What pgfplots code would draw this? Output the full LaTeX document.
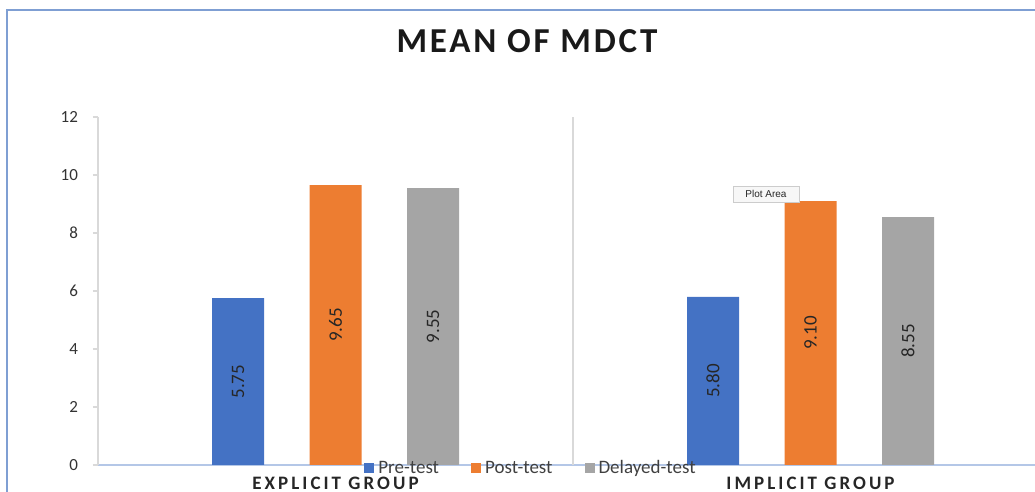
\documentclass[border=0pt]{standalone}
\usepackage{pgfplots}
\pgfplotsset{compat=1.18}
\usepackage{fontspec}
\setmainfont{Carlito}
\newfontfamily\titlefont[LetterSpace=8]{Carlito}
\newfontfamily\catfont[LetterSpace=16]{Carlito}
\newfontfamily\tipfont{Liberation Sans}

\definecolor{cblue}{HTML}{4472C4}
\definecolor{corange}{HTML}{ED7D31}
\definecolor{cgray}{HTML}{A5A5A5}
\definecolor{frame}{HTML}{7F9FD3}
\definecolor{xline}{HTML}{B4C7E7}
\definecolor{lightline}{HTML}{D9D9D9}

\begin{document}
\begin{tikzpicture}
\useasboundingbox (0,0) rectangle (517.5pt,246pt);
\begin{axis}[
    at={(49pt,13.5pt)}, anchor=south west,
    scale only axis,
    width=468.5pt, height=174pt,
    xmin=-0.5, xmax=1.4726,
    ymin=0, ymax=12,
    axis x line*=bottom,
    axis y line*=left,
    x axis line style={draw=xline, line width=1pt},
    y axis line style={draw=lightline, line width=0.6pt},
    xtick={0,1},
    xticklabels={EXPLICIT GROUP, IMPLICIT GROUP},
    x tick style={draw=none},
    xticklabel style={anchor=center, yshift=-6.8pt, font=\catfont\bfseries\fontsize{9.5}{9.5}\selectfont, text=black!85},
    ytick={0,2,...,12},
    y tick style={draw=lightline, line width=0.6pt},
    tick align=outside,
    major tick length=2.5pt,
    yticklabel style={font=\fontsize{8.5}{8.5}\selectfont, text=black!80, xshift=-4pt},
    /pgf/number format/assume math mode=true,
    extra x ticks={0.5},
    extra x tick labels={},
    extra x tick style={grid=major, major grid style={draw=lightline, line width=0.6pt}, major tick length=0pt},
    ybar, bar width=26pt,
    nodes near coords={\pgfmathprintnumber[fixed,fixed zerofill,precision=2]{\pgfplotspointmeta}},
    visualization depends on=y \as \rawy,
    every node near coord/.append style={font=\fontsize{9.5}{9.5}\selectfont, text=black!85,
        shift={(axis direction cs:0,-\rawy/2)}, rotate=90, anchor=center},
    legend image code/.code={\path[#1, draw=none] (0pt,-2.5pt) rectangle (5pt,2.5pt);},
    legend style={at={(0.4632,-0.0100)}, anchor=center, draw=none, fill=none,
        legend columns=3, font=\fontsize{9.5}{9.5}\selectfont, text=black!75, inner sep=1pt,
        /tikz/every even column/.append style={column sep=14pt}},
]
\addplot[fill=cblue, draw=none, bar shift=-48.75pt] coordinates {(0,5.75) (1,5.80)};
\addplot[fill=corange, draw=none, bar shift=0pt] coordinates {(0,9.65) (1,9.10)};
\addplot[fill=cgray, draw=none, bar shift=48.75pt] coordinates {(0,9.55) (1,8.55)};
\legend{Pre-test, Post-test, Delayed-test}
\end{axis}
\node[font=\titlefont\bfseries\fontsize{17.5}{17.5}\selectfont, text=black!90] at (263.5pt,225.5pt) {MEAN OF MDCT};
\node[draw=black!20, fill=black!3, font=\tipfont\fontsize{5}{5}\selectfont, text=black!85,
      inner sep=2pt, minimum width=33pt, minimum height=8pt] at (383pt,149pt) {Plot Area};
\draw[frame, line width=1pt] (3.5pt,0) -- (3.5pt,241pt) -- (517.5pt,241pt);
\end{tikzpicture}
\end{document}
